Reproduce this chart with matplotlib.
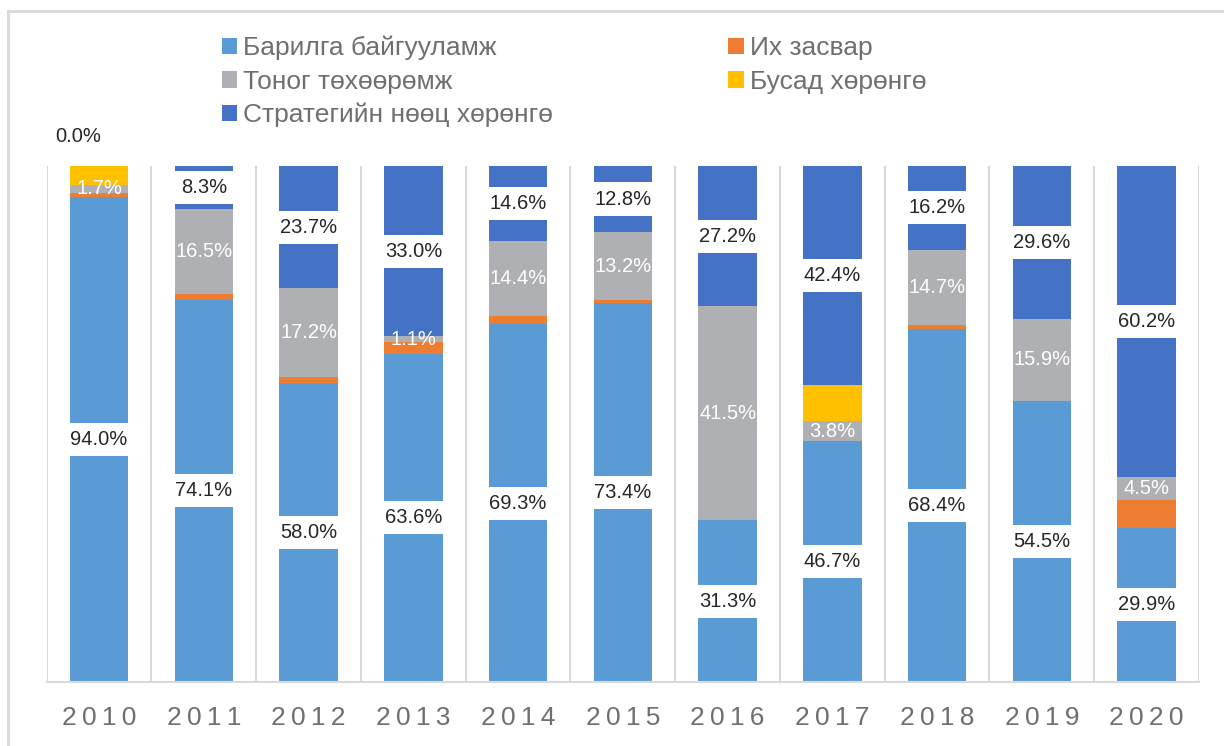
import matplotlib
matplotlib.use('Agg')
import matplotlib.pyplot as plt
from matplotlib.lines import Line2D
import numpy as np

plt.rcParams['font.family'] = ['Liberation Sans', 'DejaVu Sans']

years = ['2010', '2011', '2012', '2013', '2014', '2015', '2016', '2017', '2018', '2019', '2020']
construction = [94.0, 74.1, 58.0, 63.6, 69.3, 73.4, 31.3, 46.7, 68.4, 54.5, 29.9]
overhaul = [0.7, 1.1, 1.1, 2.3, 1.7, 0.6, 0.0, 0.0, 0.7, 0.0, 5.4]
equipment = [1.7, 16.5, 17.2, 1.1, 14.4, 13.2, 41.5, 3.8, 14.7, 15.9, 4.5]
other = [3.6, 0.0, 0.0, 0.0, 0.0, 0.0, 0.0, 7.1, 0.0, 0.0, 0.0]
strategic = [0.0, 8.3, 23.7, 33.0, 14.6, 12.8, 27.2, 42.4, 16.2, 29.6, 60.2]

series_names = ['Барилга байгууламж', 'Их засвар', 'Тоног төхөөрөмж', 'Бусад хөрөнгө', 'Стратегийн нөөц хөрөнгө']
colors = ['#5B9BD5', '#ED7D31', '#AFB0B3', '#FFC000', '#4472C4']

W, H = 1224, 746
fig = plt.figure(figsize=(W / 100, H / 100), dpi=100)
ax = fig.add_axes([46.7 / W, (H - 682) / H, (1199 - 46.7) / W, (682 - 166) / H])

x = np.arange(len(years))
bw = 0.557
data = [construction, overhaul, equipment, other, strategic]
bottom = np.zeros(len(years))
conts = []
for vals, col, name in zip(data, colors, series_names):
    v = np.array(vals)
    c = ax.bar(x, v, bw, bottom=bottom, color=col, label=name, zorder=2, linewidth=0)
    conts.append(c)
    bottom = bottom + v

ax.set_xlim(-0.5, len(years) - 0.5)
ax.set_ylim(0, 100)
for s in ['top', 'left', 'right']:
    ax.spines[s].set_visible(False)
ax.spines['bottom'].set_color('#D9D9D9')
ax.spines['bottom'].set_linewidth(1.5)
ax.set_yticks([])
ax.set_xticks(x)
ax.set_xticklabels(['\u2009'.join(list(y)) for y in years])
ax.tick_params(axis='x', which='major', length=0, pad=17, labelsize=19, labelcolor='#6F6F6F')
ax.set_xticks(np.arange(-0.5, len(years), 1), minor=True)
ax.tick_params(axis='x', which='minor', length=0)
ax.grid(which='minor', axis='x', color='#D9D9D9', linewidth=1.5)
ax.set_axisbelow(True)

dark = '#262626'
lab_fs = 14.5
box = dict(boxstyle='square,pad=0.35', fc='white', ec='none')
for i in range(len(years)):
    c = construction[i]
    ax.text(x[i], c / 2, f'{c:.1f}%', ha='center', va='center', fontsize=lab_fs,
            color=dark, bbox=box, zorder=4)
    e = equipment[i]
    if e > 0:
        ax.text(x[i], c + overhaul[i] + e / 2, f'{e:.1f}%', ha='center', va='center',
                fontsize=lab_fs, color='white', zorder=4)
    s = strategic[i]
    if s > 0:
        ax.text(x[i], 100 - s / 2, f'{s:.1f}%', ha='center', va='center', fontsize=lab_fs,
                color=dark, bbox=box, zorder=4)
    else:
        ax.annotate(f'{s:.1f}%', xy=(x[i], 100), xytext=(-15, 21), textcoords='offset points',
                    ha='center', va='center', fontsize=lab_fs, color=dark,
                    annotation_clip=False, zorder=4)

order = [0, 2, 4, 1, 3]
handles = [conts[k] for k in order]
labels = [series_names[k] for k in order]
leg = fig.legend(handles, labels, loc='upper left', bbox_to_anchor=(222 / W, 1 - 36 / H),
                 ncol=2, frameon=False, fontsize=19, labelcolor='#6F6F6F',
                 handlelength=0.57, handleheight=0.57, handletextpad=0.23,
                 columnspacing=6.65, labelspacing=0.35, borderpad=0, borderaxespad=0)

# outer chart-area border
fig.add_artist(Line2D([8 / W, 1.01], [1 - 11 / H, 1 - 11 / H], transform=fig.transFigure,
                      color='#D9D9D9', linewidth=2))
fig.add_artist(Line2D([8 / W, 8 / W], [-0.01, 1 - 11 / H], transform=fig.transFigure,
                      color='#D9D9D9', linewidth=2))

fig.savefig('out.png', dpi=100, facecolor='white')
